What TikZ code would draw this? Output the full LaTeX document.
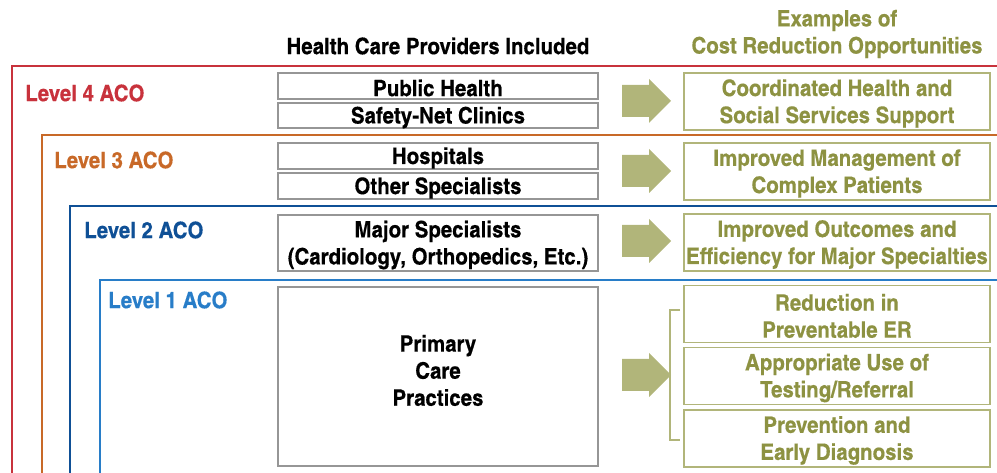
\documentclass[tikz,border=0pt]{standalone}
\usepackage{fontspec}
\setmainfont{texgyreheroscn-bold}[Extension=.otf, FakeStretch=1.1, FakeBold=0.4]
\definecolor{lvfour}{RGB}{200,50,60}
\definecolor{lvthree}{RGB}{200,105,40}
\definecolor{lvtwo}{RGB}{15,80,150}
\definecolor{lvone}{RGB}{40,125,200}
\definecolor{olivetext}{RGB}{141,146,66}
\definecolor{olivefill}{RGB}{177,181,122}
\definecolor{boxgray}{RGB}{150,150,150}
\begin{document}
\begin{tikzpicture}[x=0.75pt,y=-0.75pt,
  every node/.style={font=\fontsize{17}{20.3}\selectfont, inner sep=0pt, align=center},
  provbox/.style={draw=boxgray, line width=1.1pt, minimum width=240pt},
  oppbox/.style={draw=olivefill, line width=1.4pt, minimum width=229.5pt, minimum height=42.75pt},
  intext/.style={label={[yshift=-1.5pt, align=center]center:{#1}}},
  oppintext/.style={label={[yshift=-1.5pt, align=center, text=olivetext]center:{#1}}},
  lvlabel/.style={anchor=west},
  frame/.style={line width=1.5pt},
  blockarr/.style={fill=olivefill}
]
\useasboundingbox (0,0) rectangle (997,473);

% frames
\draw[frame, lvfour] (12,473) -- (12,66) -- (997,66);
\draw[frame, lvthree] (42,473) -- (42,135.5) -- (997,135.5);
\draw[frame, lvtwo] (70,473) -- (70,206.5) -- (997,206.5);
\draw[frame, lvone] (100,473) -- (100,280) -- (997,280);

% level labels
\node[lvlabel, text=lvfour] (l4) at (25,93) {Level 4 ACO};
\node[lvlabel, text=lvthree] (l3) at (54,160) {Level 3 ACO};
\node[lvlabel, text=lvtwo] (l2) at (84,230) {Level 2 ACO};
\node[lvlabel, text=lvone] (l1) at (108,300) {Level 1 ACO};

% headers
\node (hprov) at (438,46) {Health Care Providers Included};
\node[text=olivetext] (hopp) at (837,34) {Examples of\\Cost Reduction Opportunities};

% provider boxes
\node[provbox, minimum height=19.5pt, intext={Public Health}] (pub) at (438,86) {};
\node[provbox, minimum height=19pt, intext={Safety-Net Clinics}] (safe) at (438,115.5) {};
\node[provbox, minimum height=19.5pt, intext={Hospitals}] (hosp) at (438,156) {};
\node[provbox, minimum height=19.5pt, intext={Other Specialists}] (oth) at (438,186) {};
\node[provbox, minimum height=42pt, intext={Major Specialists\\(Cardiology, Orthopedics, Etc.)}] (maj) at (438,243) {};
\node[provbox, minimum height=134.25pt] (prim) at (438,376.5) {};
\node (primtext) at (438,370.5) {Primary\\Care\\Practices};

% opportunity boxes
\node[oppbox, oppintext={Coordinated Health and\\Social Services Support}] (o4) at (837,101.5) {};
\node[oppbox, oppintext={Improved Management of\\Complex Patients}] (o3) at (837,171.5) {};
\node[oppbox, oppintext={Improved Outcomes and\\Efficiency for Major Specialties}] (o2) at (837,242.5) {};
\node[oppbox, oppintext={Reduction in\\Preventable ER}] (o1a) at (837,314) {};
\node[oppbox, oppintext={Appropriate Use of\\Testing/Referral}] (o1b) at (837,376) {};
\node[oppbox, oppintext={Prevention and\\Early Diagnosis}] (o1c) at (837,438.5) {};

% block arrows
\foreach \yc/\nm in {101/a4,171/a3,241/a2,375/a1}{
  \coordinate (\nm) at (622,\yc);
  \fill[blockarr] (\nm) ++(0,-16) -- ++(27,0) -- ++(0,-6) -- ++(22,22) -- ++(-22,22) -- ++(0,-6) -- ++(-27,0) -- cycle;
}

% bracket
\coordinate (bt) at (680,310);
\coordinate (bb) at (680,440);
\draw[olivefill, line width=1.5pt] (bt) -- (670,310) -- (670,440) -- (bb);
\end{tikzpicture}
\end{document}
